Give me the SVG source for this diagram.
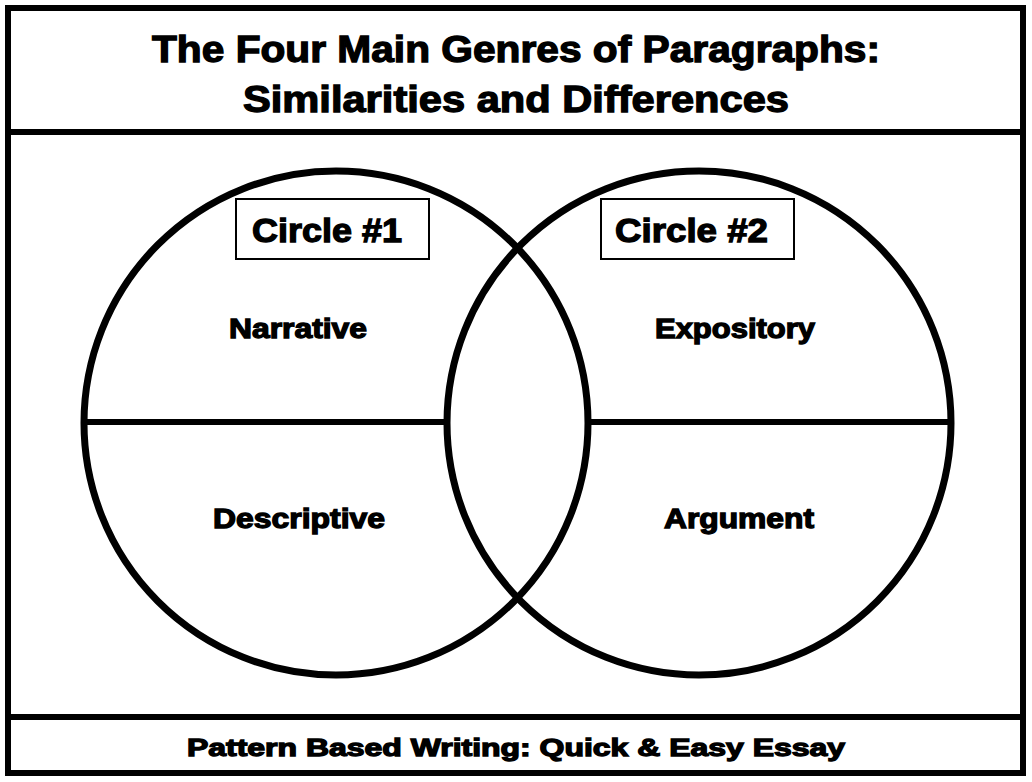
<svg xmlns="http://www.w3.org/2000/svg" width="1032" height="782" viewBox="0 0 1032 782">
<style>
.ln{stroke:#000;fill:none}
.t{font-family:"Liberation Sans",Arial,sans-serif;font-weight:bold;fill:#000;stroke:#000;stroke-width:1.3}
</style>
<rect width="1032" height="782" fill="#fff"/>
<g id="frame">
<rect class="ln" x="8" y="8" width="1015" height="765" stroke-width="6"/>
<line class="ln" x1="8" y1="132" x2="1023" y2="132" stroke-width="6"/>
<line class="ln" x1="8" y1="717" x2="1023" y2="717" stroke-width="6"/>
</g>
<g id="title">
<text class="t" x="152" y="62" font-size="37" textLength="728" lengthAdjust="spacingAndGlyphs">The Four Main Genres of Paragraphs:</text>
<text class="t" x="243" y="112" font-size="37" textLength="546" lengthAdjust="spacingAndGlyphs">Similarities and Differences</text>
</g>
<g id="circle1">
<circle class="ln" cx="336" cy="423" r="252" stroke-width="7"/>
<line class="ln" x1="85" y1="422" x2="448" y2="422" stroke-width="6"/>
<rect class="ln" x="236" y="199" width="193" height="60" stroke-width="2"/>
<text class="t" x="252" y="242" font-size="34" textLength="150" lengthAdjust="spacingAndGlyphs">Circle #1</text>
<text class="t" x="229" y="338" font-size="27" textLength="138" lengthAdjust="spacingAndGlyphs">Narrative</text>
<text class="t" x="213" y="528" font-size="27" textLength="172" lengthAdjust="spacingAndGlyphs">Descriptive</text>
</g>
<g id="circle2">
<circle class="ln" cx="699" cy="423" r="252" stroke-width="7"/>
<line class="ln" x1="586" y1="422" x2="950" y2="422" stroke-width="6"/>
<rect class="ln" x="601" y="199" width="193" height="60" stroke-width="2"/>
<text class="t" x="615" y="242" font-size="34" textLength="153" lengthAdjust="spacingAndGlyphs">Circle #2</text>
<text class="t" x="655" y="338" font-size="27" textLength="160" lengthAdjust="spacingAndGlyphs">Expository</text>
<text class="t" x="664" y="528" font-size="27" textLength="150" lengthAdjust="spacingAndGlyphs">Argument</text>
</g>
<g id="footer">
<text class="t" x="187" y="756" font-size="24" textLength="658" lengthAdjust="spacingAndGlyphs">Pattern Based Writing: Quick &amp; Easy Essay</text>
</g>
</svg>
